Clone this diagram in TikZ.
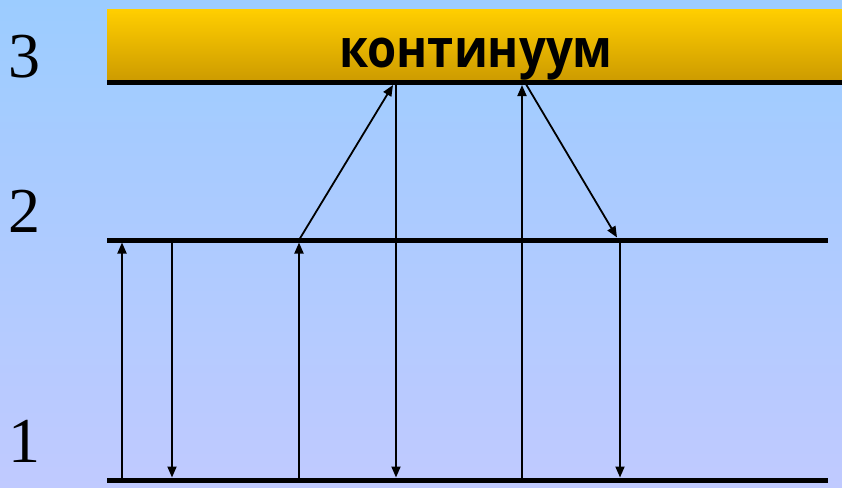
\documentclass[tikz,border=0pt]{standalone}
\usepackage{fontspec}
\setmainfont{Liberation Serif}
\newfontfamily\contfont{Open Sans}
\usetikzlibrary{arrows.meta}
\definecolor{bgtop}{RGB}{156,204,255}
\definecolor{bgbot}{RGB}{192,202,255}
\definecolor{goldtop}{RGB}{255,206,0}
\definecolor{goldbot}{RGB}{204,154,0}
\begin{document}
\begin{tikzpicture}[x=1pt,y=-1pt,
  levelline/.style={line width=5pt},
  trans/.style={line width=1.8pt,-{Triangle[width=9pt,length=11pt]}},
  lvl/.style={font=\fontsize{64}{64}\selectfont, anchor=base, inner sep=0pt}]
\shade[top color=bgtop,bottom color=bgbot] (0,0) rectangle (842,487);
\useasboundingbox (0,0) rectangle (842,487);
\shade[top color=goldtop,bottom color=goldbot] (107,10) rectangle (842,82);
\node[font=\contfont\bfseries\fontsize{53}{53}\selectfont, inner sep=0pt, anchor=base] (cont) at (476,67) {\scalebox{0.89}[1]{континуум}};
% levels
\coordinate (c0) at (107,82.5);  \coordinate (c1) at (842,82.5);
\coordinate (m0) at (107,240); \coordinate (m1) at (828,240);
\coordinate (g0) at (107,480); \coordinate (g1) at (828,480);
\draw[levelline] (c0) -- (c1);
\draw[levelline] (m0) -- (m1);
\draw[levelline] (g0) -- (g1);
\node[lvl] (n3) at (25,77) {3};
\node[lvl] (n2) at (25,232) {2};
\node[lvl] (n1) at (25,462) {1};
% transitions
\coordinate (a1s) at (122,480); \coordinate (a1e) at (122,242.5);
\coordinate (a2s) at (172,240); \coordinate (a2e) at (172,477.5);
\coordinate (a3s) at (299,480); \coordinate (a3e) at (299,242.5);
\coordinate (a4s) at (299,240); \coordinate (a4e) at (393,85);
\coordinate (a5s) at (396,82.5);  \coordinate (a5e) at (396,477.5);
\coordinate (a6s) at (522,480); \coordinate (a6e) at (522,85);
\coordinate (a7s) at (525,82.5);  \coordinate (a7e) at (617,237.5);
\coordinate (a8s) at (620,240); \coordinate (a8e) at (620,477.5);
\foreach \i in {1,...,8} \draw[trans] (a\i s) -- (a\i e);
\end{tikzpicture}
\end{document}
